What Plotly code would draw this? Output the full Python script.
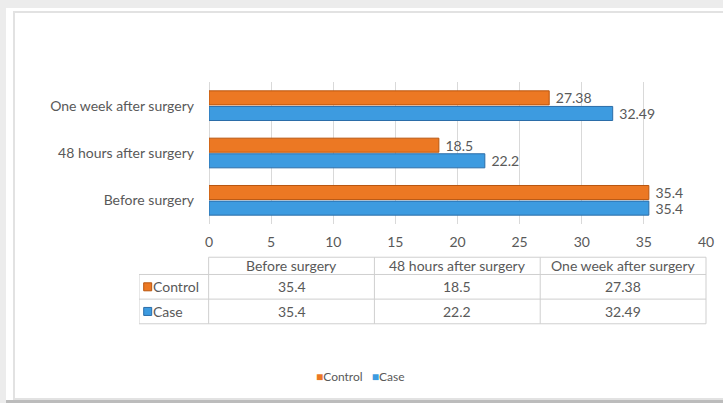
import plotly.graph_objects as go

# ---- data ----
categories = ["Before surgery", "48 hours after surgery", "One week after surgery"]
control_values = [35.4, 18.5, 27.38]
case_values = [35.4, 22.2, 32.49]
series_names = ["Control", "Case"]
x_ticks = [0, 5, 10, 15, 20, 25, 30, 35, 40]

# ---- styling ----
W, H = 723, 403
FONT = "Lato"
TXT = "#595959"
ORANGE = "#EC7823"
ORANGE_LINE = "#B9560F"
BLUE = "#3D9BE0"
BLUE_LINE = "#2B6DA8"
GRID = "#d9d9d9"
TLINE = "#cfcfcf"
FS = 14
NBSP = "\u00a0"


def px_x(p):
    return p / W


def px_y(p):
    return 1 - p / H


fig = go.Figure()

# Case first so it sits below Control within each group
fig.add_trace(go.Bar(
    y=categories, x=case_values, orientation="h", name="Case",
    marker=dict(color=BLUE, line=dict(color=BLUE_LINE, width=1)),
    text=[f"{NBSP}{v:g}" for v in case_values], textposition="outside", constraintext="none",
    textfont=dict(family=FONT, size=FS, color=TXT), cliponaxis=False, showlegend=False,
))
fig.add_trace(go.Bar(
    y=categories, x=control_values, orientation="h", name="Control",
    marker=dict(color=ORANGE, line=dict(color=ORANGE_LINE, width=1)),
    text=[f"{NBSP}{v:g}" for v in control_values], textposition="outside", constraintext="none",
    textfont=dict(family=FONT, size=FS, color=TXT), cliponaxis=False, showlegend=False,
))

# ---- data table below the chart, drawn on its own axes ----
row_h = 1.0
head_h = 0.7
n_cols = len(categories)
col_w = 40 / n_cols
left_x = -5.6
table_bottom = head_h + row_h * len(series_names)

shapes = []
annotations = []
line = dict(color=TLINE, width=1)
shapes.append(dict(type="line", xref="x2", yref="y2", x0=0, x1=40, y0=0, y1=0, line=line))
for i in range(len(series_names) + 1):
    yy = head_h + i * row_h
    shapes.append(dict(type="line", xref="x2", yref="y2", x0=left_x, x1=40, y0=yy, y1=yy, line=line))
shapes.append(dict(type="line", xref="x2", yref="y2", x0=left_x, x1=left_x, y0=head_h, y1=table_bottom, line=line))
for j in range(n_cols + 1):
    xx = j * col_w
    shapes.append(dict(type="line", xref="x2", yref="y2", x0=xx, x1=xx, y0=0, y1=table_bottom, line=line))

for j, c in enumerate(categories):
    annotations.append(dict(xref="x2", yref="y2", x=(j + 0.5) * col_w, y=head_h / 2, text=c,
                            showarrow=False, font=dict(family=FONT, size=FS, color=TXT)))
series_vals = [control_values, case_values]
series_cols = [ORANGE, BLUE]
series_lines = [ORANGE_LINE, BLUE_LINE]
for i, (nm, vals) in enumerate(zip(series_names, series_vals)):
    yc = head_h + (i + 0.5) * row_h
    annotations.append(dict(xref="x2", yref="y2", x=left_x + 1.0, y=yc, text=nm, xanchor="left",
                            showarrow=False, font=dict(family=FONT, size=FS, color=TXT)))
    for j, v in enumerate(vals):
        annotations.append(dict(xref="x2", yref="y2", x=(j + 0.5) * col_w, y=yc, text=f"{v:g}",
                                showarrow=False, font=dict(family=FONT, size=FS, color=TXT)))

# legend keys in the table
fig.add_trace(go.Scatter(
    x=[left_x + 0.7] * len(series_names),
    y=[head_h + (i + 0.5) * row_h for i in range(len(series_names))],
    mode="markers", xaxis="x2", yaxis="y2", showlegend=False, hoverinfo="skip",
    marker=dict(symbol="square", size=8, color=series_cols,
                line=dict(color=series_lines, width=1)),
))

# ---- bottom legend ----
legend_parts = []
for nm, col in zip(series_names, series_cols):
    legend_parts.append(f"<span style='color:{col}'>■</span>{nm}")
annotations.append(dict(xref="paper", yref="paper", x=px_x(360), y=px_y(376),
                        text=(NBSP * 3).join(legend_parts), showarrow=False,
                        xanchor="center", yanchor="middle",
                        font=dict(family=FONT, size=12, color=TXT)))

# ---- panel background decoration ----
bg_shapes = [
    dict(type="rect", xref="paper", yref="paper", x0=px_x(6), x1=1, y0=0, y1=px_y(8),
         fillcolor="white", line=dict(width=0), layer="below"),
    dict(type="rect", xref="paper", yref="paper", x0=px_x(14), x1=px_x(724), y0=px_y(399), y1=px_y(12),
         fillcolor="rgba(0,0,0,0)", line=dict(color="#e2e2e2", width=2), layer="below"),
    dict(type="rect", xref="paper", yref="paper", x0=px_x(6), x1=1, y0=0, y1=px_y(400),
         fillcolor="#bcbcbc", line=dict(width=0), layer="below"),
]

fig.update_layout(
    template="none",
    width=W, height=H, autosize=False,
    margin=dict(l=0, r=0, t=0, b=0, pad=0),
    paper_bgcolor="#ececec",
    plot_bgcolor="rgba(0,0,0,0)",
    barmode="group", bargap=0.34, bargroupgap=0.1,
    font=dict(family=FONT, size=FS, color=TXT),
    showlegend=False,
    xaxis=dict(domain=[px_x(209), px_x(706)], range=[0, 40], tickvals=x_ticks,
               showgrid=True, gridcolor=GRID, gridwidth=1, zeroline=True, zerolinecolor=GRID,
               zerolinewidth=1, showline=False, ticks="", ticklabelstandoff=8, automargin=False,
               tickfont=dict(family=FONT, size=FS, color=TXT), fixedrange=True),
    yaxis=dict(domain=[px_y(224), px_y(82)], categoryorder="array", categoryarray=categories,
               showgrid=False, zeroline=False, showline=False, ticks="", ticklabelstandoff=14,
               automargin=False,
               tickfont=dict(family=FONT, size=FS, color=TXT), fixedrange=True),
    xaxis2=dict(domain=[px_x(139), px_x(707)], range=[left_x, 40.08], visible=False,
                anchor="y2", fixedrange=True, automargin=False),
    yaxis2=dict(domain=[px_y(325), px_y(256)], range=[table_bottom + 0.05, -0.05], visible=False,
                anchor="x2", fixedrange=True, automargin=False),
    shapes=bg_shapes + shapes,
    annotations=annotations,
)

fig.write_html("out.html")
